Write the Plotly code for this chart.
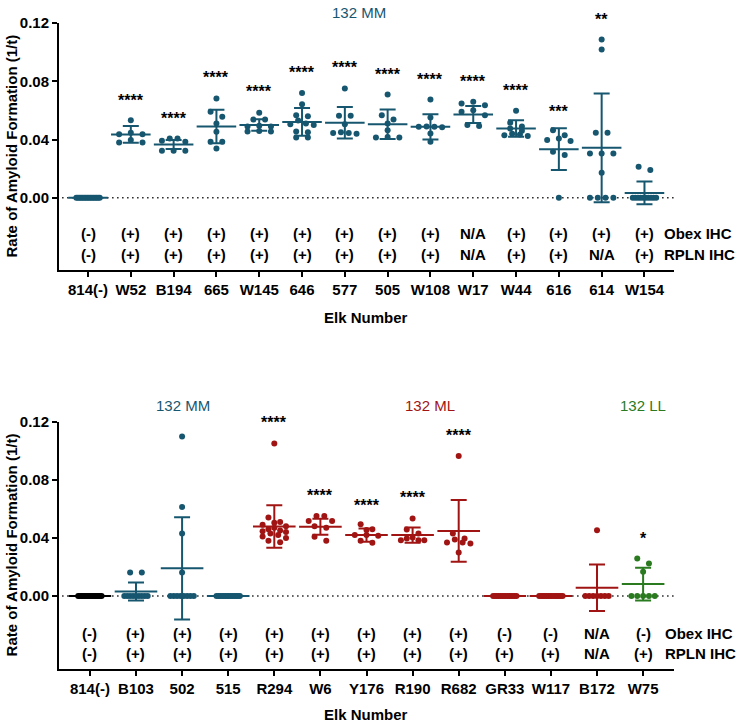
import numpy as np
import plotly.graph_objects as go

# ---------------- data ----------------
top_elk = ["814(-)", "W52", "B194", "665", "W145", "646", "577", "505",
           "W108", "W17", "W44", "616", "614", "W154"]
top_points = [
    [0.0] * 16,
    [0.0533, 0.0446, 0.0437, 0.0437, 0.0396, 0.0380, 0.0380],
    [0.0407, 0.0407, 0.0392, 0.0384, 0.0323, 0.0323, 0.0323],
    [0.0682, 0.0590, 0.0556, 0.0510, 0.0453, 0.0384, 0.0384, 0.0339],
    [0.0583, 0.0538, 0.0538, 0.0495, 0.0490, 0.0490, 0.0458, 0.0455, 0.0455],
    [0.0720, 0.0643, 0.0567, 0.0560, 0.0530, 0.0510, 0.0505, 0.0500, 0.0455, 0.0450, 0.0414, 0.0414],
    [0.0750, 0.0563, 0.0563, 0.0505, 0.0450, 0.0445, 0.0445, 0.0440],
    [0.0709, 0.0567, 0.0537, 0.0510, 0.0464, 0.0418, 0.0414, 0.0414],
    [0.0674, 0.0551, 0.0490, 0.0487, 0.0487, 0.0484, 0.0441, 0.0384],
    [0.0659, 0.0647, 0.0636, 0.0601, 0.0590, 0.0567, 0.0499, 0.0492],
    [0.0597, 0.0515, 0.0490, 0.0475, 0.0460, 0.0440, 0.0435, 0.0430, 0.0425],
    [0.0464, 0.0430, 0.0407, 0.0396, 0.0390, 0.0316, 0.0293, 0.0],
    [0.1086, 0.1018, 0.0446, 0.0446, 0.0304, 0.0304, 0.0304, 0.0172, 0.0, 0.0, 0.0, 0.0],
    [0.0213, 0.0190] + [0.0] * 10,
]
top_mean = [0.0, 0.0435, 0.0366, 0.0490, 0.0500, 0.0521, 0.0515, 0.0505,
            0.0487, 0.0572, 0.0476, 0.0334, 0.0343, 0.0033]
top_sd = [0.0, 0.0057, 0.0031, 0.0115, 0.0040, 0.0095, 0.0108, 0.0101,
          0.0087, 0.0058, 0.0057, 0.0143, 0.0373, 0.0078]
top_stars = ["", "****", "****", "****", "****", "****", "****", "****",
             "****", "****", "****", "***", "**", ""]
top_star_y = [None, 0.0693, 0.0572, 0.0853, 0.0755, 0.0888, 0.0922, 0.0876,
              0.0842, 0.0823, 0.0761, 0.0620, 0.1253, None]
top_obex = ["(-)", "(+)", "(+)", "(+)", "(+)", "(+)", "(+)", "(+)", "(+)",
            "N/A", "(+)", "(+)", "(+)", "(+)"]
top_rpln = ["(-)", "(+)", "(+)", "(+)", "(+)", "(+)", "(+)", "(+)", "(+)",
            "N/A", "(+)", "(+)", "N/A", "(+)"]
top_group = ["MM"] * 14

bot_elk = ["814(-)", "B103", "502", "515", "R294", "W6", "Y176", "R190",
           "R682", "GR33", "W117", "B172", "W75"]
bot_points = [
    [0.0] * 16,
    [0.0162, 0.0162] + [0.0] * 9,
    [0.1098, 0.0613, 0.0430, 0.0162] + [0.0] * 8,
    [0.0] * 14,
    [0.1050, 0.0540, 0.0510, 0.0505, 0.0490, 0.0480, 0.0470, 0.0460, 0.0450,
     0.0445, 0.0440, 0.0430, 0.0420, 0.0410, 0.0400, 0.0380, 0.0370],
    [0.0551, 0.0551, 0.0517, 0.0517, 0.0480, 0.0470, 0.0407, 0.0380],
    [0.0494, 0.0460, 0.0455, 0.0420, 0.0419, 0.0415, 0.0380, 0.0366],
    [0.0533, 0.0457, 0.0430, 0.0402, 0.0395, 0.0384, 0.0384, 0.0384],
    [0.0963, 0.0430, 0.0396, 0.0389, 0.0368, 0.0368, 0.0361, 0.0300],
    [0.0] * 14,
    [0.0] * 14,
    [0.0453] + [0.0] * 7,
    [0.0258, 0.0224, 0.0167] + [0.0] * 5,
]
bot_mean = [0.0, 0.0030, 0.0190, 0.0, 0.0478, 0.0476, 0.0419, 0.0419,
            0.0448, 0.0, 0.0, 0.0057, 0.0082]
bot_sd = [0.0, 0.0062, 0.0352, 0.0, 0.0146, 0.0055, 0.0046, 0.0053,
          0.0212, 0.0, 0.0, 0.0160, 0.0113]
bot_stars = ["", "", "", "", "****", "****", "****", "****", "****", "", "", "", "*"]
bot_star_y = [None, None, None, None, 0.1219, 0.0718, 0.0652, 0.0705, 0.1134,
              None, None, None, 0.0425]
bot_obex = ["(-)", "(+)", "(+)", "(+)", "(+)", "(+)", "(+)", "(+)", "(+)",
            "(-)", "(-)", "N/A", "(-)"]
bot_rpln = ["(-)", "(+)", "(+)", "(+)", "(+)", "(+)", "(+)", "(+)", "(+)",
            "(+)", "(+)", "N/A", "(+)"]
bot_group = ["NEG", "MM", "MM", "MM", "ML", "ML", "ML", "ML", "ML", "ML", "ML", "ML", "LL"]

yticks = [0.0, 0.04, 0.08, 0.12]

# ---------------- style ----------------
COL = {"MM": "#17566f", "ML": "#a11414", "LL": "#2a7a1f", "NEG": "#000000"}
FONT = "Liberation Sans, Arial, sans-serif"
W, H = 740, 725
ML_, MR_, MT_, MB_ = 59, 66, 23, 56
PW, PH = W - ML_ - MR_, H - MT_ - MB_
top_dom = [0.6176, 1.0]
bot_dom = [0.0, 0.3828]
top_xr = [-0.678, 13.69]
bot_xr = [-0.67, 12.67]
top_yr = [-0.0496, 0.12]
bot_yr = [-0.0503, 0.12]


def swarm(vals, pxy, pxx, row_px=5.0, step_px=11.7, span_px=23.4):
    vals = np.asarray(vals, float)
    order = np.argsort(-vals, kind="stable")
    rows = []
    for i in order:
        if rows and abs(vals[rows[-1][0]] - vals[i]) * pxy <= row_px:
            rows[-1].append(i)
        else:
            rows.append([i])
    off = np.zeros(len(vals))
    for r in rows:
        n = len(r)
        if n == 1:
            continue
        step = min(step_px, span_px / (n - 1))
        slots = sorted(range(n), key=lambda k: (abs(k - (n - 1) / 2), k))
        for idx, k in zip(r, slots):
            off[idx] = (k - (n - 1) / 2) * step
    return off / pxx


def to_paper(v, yr, dom):
    return dom[0] + (v - yr[0]) / (yr[1] - yr[0]) * (dom[1] - dom[0])


fig = go.Figure()


def panel(elk, points, means, sds, groups, xa, ya, xr, yr, dom):
    pxx = PW / (xr[1] - xr[0])
    pxy = PH * (dom[1] - dom[0]) / (yr[1] - yr[0])
    for i, vals in enumerate(points):
        off = swarm(vals, pxy, pxx)
        c = COL[groups[i]]
        fig.add_trace(go.Scatter(
            x=i + off, y=vals, mode="markers", xaxis=xa, yaxis=ya,
            marker=dict(size=6, color=c, line=dict(width=0)),
            showlegend=False, hoverinfo="y", cliponaxis=False))
    mlen = 0.66 * pxx
    for i in range(len(elk)):
        c = COL[groups[i]]
        fig.add_trace(go.Scatter(
            x=[i], y=[means[i]], mode="markers", xaxis=xa, yaxis=ya,
            marker=dict(symbol="line-ew", size=mlen,
                        line=dict(width=2, color=c), color=c),
            error_y=dict(type="data", array=[sds[i]], visible=sds[i] > 0,
                         color=c, thickness=2, width=8),
            showlegend=False, hoverinfo="y", cliponaxis=False))


panel(top_elk, top_points, top_mean, top_sd, top_group, "x", "y", top_xr, top_yr, top_dom)
panel(bot_elk, bot_points, bot_mean, bot_sd, bot_group, "x2", "y2", bot_xr, bot_yr, bot_dom)

axis_common = dict(showline=True, linecolor="black", linewidth=2, ticks="outside",
                   ticklen=5, tickwidth=2, tickcolor="black", showgrid=False,
                   zeroline=False, automargin=False,
                   tickfont=dict(family=FONT, size=15, color="black", weight="bold"))

fig.update_layout(
    width=W, height=H, margin=dict(l=ML_, r=MR_, t=MT_, b=MB_),
    paper_bgcolor="white", plot_bgcolor="white", showlegend=False,
    xaxis=dict(domain=[0, 1], anchor="y", range=top_xr, tickmode="array",
               tickvals=list(range(len(top_elk))), ticktext=top_elk, **axis_common),
    yaxis=dict(domain=top_dom, anchor="x", range=top_yr, tickmode="array",
               tickvals=yticks, ticktext=[f"{v:.2f}" for v in yticks], **axis_common),
    xaxis2=dict(domain=[0, 1], anchor="y2", range=bot_xr, tickmode="array",
                tickvals=list(range(len(bot_elk))), ticktext=bot_elk, **axis_common),
    yaxis2=dict(domain=bot_dom, anchor="x2", range=bot_yr, tickmode="array",
                tickvals=yticks, ticktext=[f"{v:.2f}" for v in yticks], **axis_common),
)

# dotted zero lines
for xa, ya in (("x", "y"), ("x2", "y2")):
    fig.add_shape(type="line", xref=f"{xa} domain", yref=ya, x0=0.005, x1=1.0, y0=0, y1=0,
                  line=dict(color="#222222", width=1.5, dash="1.5px,3.5px"), layer="below")

ann = []
bold = dict(family=FONT, size=15, color="black", weight="bold")


def labels(elk, stars, star_y, obex, rpln, xa, ya, yr, dom, obex_y, rpln_y, lab_x):
    for i in range(len(elk)):
        if stars[i]:
            ann.append(dict(x=i, y=to_paper(star_y[i], yr, dom), xref=xa, yref="paper",
                            text=stars[i], showarrow=False, yshift=-4,
                            xanchor="center", yanchor="middle",
                            font=dict(family=FONT, size=16, color="black", weight="bold")))
        ann.append(dict(x=i, y=obex_y, xref=xa, yref=ya, text=obex[i], showarrow=False,
                        xanchor="center", yanchor="middle", font=bold))
        ann.append(dict(x=i, y=rpln_y, xref=xa, yref=ya, text=rpln[i], showarrow=False,
                        xanchor="center", yanchor="middle", font=bold))
    ann.append(dict(x=lab_x, y=obex_y, xref=xa, yref=ya, text="Obex IHC", showarrow=False,
                    xanchor="left", yanchor="middle", font=bold))
    ann.append(dict(x=lab_x, y=rpln_y, xref=xa, yref=ya, text="RPLN IHC", showarrow=False,
                    xanchor="left", yanchor="middle", font=bold))


labels(top_elk, top_stars, top_star_y, top_obex, top_rpln, "x", "y", top_yr, top_dom,
       -0.0242, -0.0386, 13.40)
labels(bot_elk, bot_stars, bot_star_y, bot_obex, bot_rpln, "x2", "y2", bot_yr, bot_dom,
       -0.0256, -0.0398, 12.43)

# axis titles
for yc in ((top_dom[0] + top_dom[1]) / 2, (bot_dom[0] + bot_dom[1]) / 2):
    ann.append(dict(x=-0.0780, y=yc, xref="paper", yref="paper", textangle=-90,
                    xanchor="center", yanchor="middle",
                    text="Rate of Amyloid Formation (1/t)", showarrow=False, font=bold))
for yp in (0.5445, -0.0711):
    ann.append(dict(x=0.499, y=yp, xref="paper", yref="paper", text="Elk Number",
                    xanchor="center", yanchor="middle", showarrow=False, font=bold))

# group titles
ttl = dict(family=FONT, size=15)
for xv, yv, xr_, txt, g in ((6.33, 1.0155, "x", "132 MM", "MM"),
                            (2.02, 0.408, "x2", "132 MM", "MM"),
                            (7.37, 0.408, "x2", "132 ML", "ML"),
                            (12.0, 0.408, "x2", "132 LL", "LL")):
    ann.append(dict(x=xv, y=yv, xref=xr_, yref="paper", text=txt, showarrow=False,
                    xanchor="center", yanchor="middle", font=dict(**ttl, color=COL[g])))

fig.update_layout(annotations=ann)
# drop the browser's default 8px page margin so the figure fills the window exactly
fig.write_html("out.html",
               config={"displayModeBar": False},
               post_script="document.body.style.margin='0';document.body.style.overflow='hidden';")
